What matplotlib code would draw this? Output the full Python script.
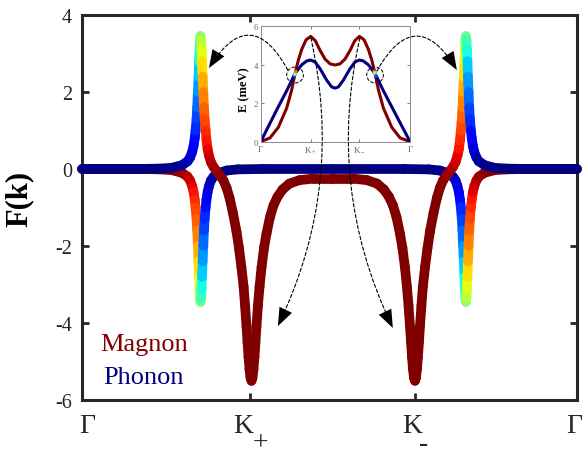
import numpy as np
import matplotlib.pyplot as plt
from matplotlib.collections import LineCollection
from matplotlib.patches import Ellipse, FancyArrowPatch

plt.rcParams['font.family'] = ['Liberation Serif', 'DejaVu Serif']
plt.rcParams['mathtext.fontset'] = 'custom'
plt.rcParams['mathtext.rm'] = 'Liberation Serif'
plt.rcParams['axes.unicode_minus'] = False

# k-path: Γ -> K+ -> K- -> Γ
tick_pos = [0.0, 1.02, 2.02, 3.0]
tick_lab = ['Γ', 'K', 'K', 'Γ']
tick_sub = ['', '+', '-', '']

# upper band: k, F(k), magnon weight (0 = phonon, 1 = magnon)
k_up = [0.0, 0.170, 0.352, 0.473, 0.545, 0.607, 0.641, 0.656, 0.669, 0.677,
        0.684, 0.689, 0.695, 0.699, 0.703, 0.707, 0.710, 0.713, 0.716, 0.719,
        0.723, 0.726, 0.728, 0.732, 0.736, 0.740, 0.744, 0.750, 0.755, 0.762,
        0.770, 0.782, 0.798, 0.836, 0.858, 0.877, 0.895, 0.916, 0.937, 0.952,
        0.967, 0.980, 0.989, 0.998, 1.004, 1.010, 1.016, 1.022, 1.028, 1.034,
        1.040, 1.046, 1.052, 1.058, 1.067, 1.077, 1.089, 1.104, 1.119, 1.140,
        1.161, 1.186, 1.217, 1.258, 1.319, 1.404, 1.523,
        1.643, 1.728, 1.789, 1.830, 1.861, 1.886, 1.907, 1.928, 1.943, 1.958,
        1.970, 1.980, 1.989, 1.995, 2.001, 2.007, 2.013, 2.019, 2.025, 2.031,
        2.037, 2.043, 2.049, 2.058, 2.067, 2.080, 2.095, 2.110, 2.131, 2.152,
        2.170, 2.189, 2.211, 2.249, 2.265, 2.277, 2.285, 2.292, 2.297, 2.303,
        2.307, 2.311, 2.315, 2.319, 2.321, 2.324, 2.328, 2.331, 2.334, 2.337,
        2.340, 2.344, 2.348, 2.352, 2.358, 2.363, 2.370, 2.378, 2.391, 2.406,
        2.440, 2.502, 2.574, 2.695, 2.877, 3.0]
F_up = [0.0, 0.0, 0.0, 0.01, 0.03, 0.1, 0.2, 0.3, 0.45, 0.6,
        0.8, 1.0, 1.3, 1.6, 2.0, 2.4, 2.8, 3.1, 3.35, 3.45,
        3.35, 3.1, 2.8, 2.4, 2.0, 1.6, 1.3, 1.0, 0.75, 0.52,
        0.35, 0.18, 0.05, -0.16, -0.30, -0.49, -0.75, -1.15, -1.62, -2.05,
        -2.55, -3.05, -3.55, -4.1, -4.5, -4.88, -5.2, -5.42, -5.5, -5.42,
        -5.2, -4.88, -4.5, -4.1, -3.55, -3.05, -2.55, -2.05, -1.68, -1.25,
        -0.95, -0.72, -0.53, -0.38, -0.29, -0.25, -0.25,
        -0.25, -0.29, -0.38, -0.53, -0.72, -0.95, -1.25, -1.68, -2.05, -2.55,
        -3.05, -3.55, -4.1, -4.5, -4.88, -5.2, -5.42, -5.5, -5.42, -5.2,
        -4.88, -4.5, -4.1, -3.55, -3.05, -2.55, -2.05, -1.62, -1.15, -0.75,
        -0.49, -0.30, -0.16, 0.05, 0.18, 0.35, 0.52, 0.75, 1.0, 1.3,
        1.6, 2.0, 2.4, 2.8, 3.1, 3.35, 3.45, 3.35, 3.1, 2.8,
        2.4, 2.0, 1.6, 1.3, 1.0, 0.8, 0.6, 0.45, 0.3, 0.2,
        0.1, 0.03, 0.01, 0.0, 0.0, 0.0]
w_up = [0.0, 0.0, 0.0, 0.0, 0.01, 0.02, 0.04, 0.06, 0.08, 0.1,
        0.12, 0.15, 0.18, 0.21, 0.25, 0.3, 0.35, 0.4, 0.45, 0.5,
        0.55, 0.6, 0.65, 0.7, 0.75, 0.79, 0.82, 0.85, 0.88, 0.9,
        0.92, 0.94, 0.96, 0.98, 0.99, 1, 1, 1, 1, 1,
        1, 1, 1, 1, 1, 1, 1, 1, 1, 1,
        1, 1, 1, 1, 1, 1, 1, 1, 1, 1,
        1, 1, 1, 1, 1, 1, 1,
        1, 1, 1, 1, 1, 1, 1, 1, 1, 1,
        1, 1, 1, 1, 1, 1, 1, 1, 1, 1,
        1, 1, 1, 1, 1, 1, 1, 1, 1, 1,
        1, 0.99, 0.98, 0.96, 0.94, 0.92, 0.9, 0.88, 0.85, 0.82,
        0.79, 0.75, 0.7, 0.65, 0.6, 0.55, 0.5, 0.45, 0.4, 0.35,
        0.3, 0.25, 0.21, 0.18, 0.15, 0.12, 0.1, 0.08, 0.06, 0.04,
        0.02, 0.01, 0.0, 0.0, 0.0, 0.0]

# lower band
k_lo = [0.0, 0.170, 0.352, 0.473, 0.545, 0.607, 0.641, 0.656, 0.669, 0.677,
        0.684, 0.689, 0.695, 0.699, 0.703, 0.707, 0.710, 0.713, 0.716, 0.719,
        0.723, 0.726, 0.728, 0.732, 0.736, 0.740, 0.744, 0.750, 0.755, 0.762,
        0.770, 0.782, 0.798, 0.832, 0.877, 0.945, 1.1, 1.523, 1.95, 2.102,
        2.170, 2.215, 2.249, 2.265, 2.277, 2.285, 2.292, 2.297, 2.303, 2.307,
        2.311, 2.315, 2.319, 2.321, 2.324, 2.328, 2.331, 2.334, 2.337, 2.340,
        2.344, 2.348, 2.352, 2.358, 2.363, 2.370, 2.378, 2.391, 2.406, 2.440,
        2.502, 2.574, 2.695, 2.877, 3.0]
F_lo = [0.0, 0.0, 0.0, -0.01, -0.03, -0.1, -0.2, -0.3, -0.45, -0.6,
        -0.8, -1.0, -1.3, -1.6, -2.0, -2.4, -2.8, -3.1, -3.35, -3.45,
        -3.35, -3.1, -2.8, -2.4, -2.0, -1.6, -1.3, -1.0, -0.8, -0.6,
        -0.45, -0.3, -0.2, -0.1, -0.04, -0.01, 0.0, 0.0, 0.0, -0.01,
        -0.04, -0.1, -0.2, -0.3, -0.45, -0.6, -0.8, -1.0, -1.3, -1.6,
        -2.0, -2.4, -2.8, -3.1, -3.35, -3.45, -3.35, -3.1, -2.8, -2.4,
        -2.0, -1.6, -1.3, -1.0, -0.8, -0.6, -0.45, -0.3, -0.2, -0.1,
        -0.03, -0.01, 0.0, 0.0, 0.0]
w_lo = [1, 1, 1, 1, 0.99, 0.98, 0.96, 0.94, 0.92, 0.9,
        0.88, 0.85, 0.82, 0.79, 0.75, 0.7, 0.65, 0.6, 0.55, 0.5,
        0.45, 0.4, 0.35, 0.3, 0.25, 0.21, 0.18, 0.15, 0.12, 0.1,
        0.08, 0.06, 0.04, 0.02, 0.01, 0.0, 0.0, 0.0, 0.0, 0.0,
        0.01, 0.02, 0.04, 0.06, 0.08, 0.1, 0.12, 0.15, 0.18, 0.21,
        0.25, 0.3, 0.35, 0.4, 0.45, 0.5, 0.55, 0.6, 0.65, 0.7,
        0.75, 0.79, 0.82, 0.85, 0.88, 0.9, 0.92, 0.94, 0.96, 0.98,
        0.99, 1, 1, 1, 1]

# inset dispersion E(k) in meV
ins_k_mag = [0.0, 0.1875, 0.355, 0.522, 0.623, 0.690, 0.757, 0.824, 0.911, 1.004,
             1.098, 1.192, 1.292, 1.393, 1.493, 1.594, 1.694, 1.795, 1.888, 1.982,
             2.076, 2.163, 2.230, 2.297, 2.364, 2.464, 2.632, 2.799, 3.0]
ins_E_mag = [0.0, 0.2, 0.75, 1.75, 2.7, 3.55, 4.25, 4.8, 5.3, 5.48,
             5.25, 4.75, 4.3, 4.05, 3.99, 4.05, 4.3, 4.75, 5.25, 5.48,
             5.3, 4.8, 4.25, 3.55, 2.7, 1.75, 0.75, 0.2, 0.0]
ins_k_ph = [0.0, 0.321, 0.522, 0.690, 0.824, 0.924, 1.004, 1.092, 1.192, 1.326,
            1.426, 1.493, 1.560, 1.660, 1.794, 1.894, 1.982, 2.062, 2.162, 2.296,
            2.464, 2.665, 3.0]
ins_E_ph = [0.0, 1.65, 2.65, 3.55, 4.0, 4.2, 4.25, 4.15, 3.8, 3.2,
            2.85, 2.79, 2.85, 3.2, 3.8, 4.15, 4.25, 4.2, 4.0, 3.55,
            2.65, 1.65, 0.0]
ins_tick_pos = [0.0, 1.004, 1.982, 3.0]
ins_tick_lab = ['Γ', r'K$_+$', r'K$_-$', 'Γ']
# hybridised points at the two crossings
mix_k = [0.672, 0.684, 0.696, 0.708, 2.279, 2.291, 2.303, 2.315]
mix_E = [3.42, 3.50, 3.58, 3.66, 3.66, 3.58, 3.50, 3.42]
mix_w = [0.2, 0.4, 0.6, 0.8, 0.8, 0.6, 0.4, 0.2]


def draw_band(ax, k, f, w, z):
    pts = np.column_stack([k, f])
    segs = np.stack([pts[:-1], pts[1:]], axis=1)
    cw = (np.asarray(w[:-1]) + np.asarray(w[1:])) / 2
    lc = LineCollection(segs, colors=plt.cm.jet(cw), linewidths=7,
                        capstyle='round', joinstyle='round', zorder=z)
    lc.set_clip_on(False)
    ax.add_collection(lc)


fig = plt.figure(figsize=(5.85, 4.56), dpi=100)
ax = fig.add_axes([0.140, 0.1206, 0.846, 0.8444])

draw_band(ax, k_lo, F_lo, w_lo, 2)
draw_band(ax, k_up, F_up, w_up, 3)

ax.set_xlim(0, 3)
ax.set_ylim(-6, 4)
ax.set_yticks([4, 2, 0, -2, -4, -6])
ax.set_xticks(tick_pos)
ax.set_xticklabels([])
ax.tick_params(direction='in', length=5, width=2, top=True, right=True,
               labelsize=14.5, colors='0.15', pad=7)
for s in ax.spines.values():
    s.set_linewidth(2.2)
    s.set_color('0.15')

xt = ax.get_xaxis_transform()
lab_dx = [4, -5, -2.4, -2]
sub_dx = [0, 7.3, 6.3, 0]
for pos, lab, sub, dx, sdx in zip(tick_pos, tick_lab, tick_sub, lab_dx, sub_dx):
    ax.annotate(lab, xy=(pos, 0), xycoords=xt, xytext=(dx, -18),
                textcoords='offset points', ha='center', va='center',
                fontsize=20, color='0.15', annotation_clip=False)
    if sub:
        ax.annotate(sub, xy=(pos, 0), xycoords=xt, xytext=(sdx, -31),
                    textcoords='offset points', ha='center', va='center',
                    fontsize=20, color='0.15', annotation_clip=False)

ax.set_ylabel('F(k)', fontsize=22, fontweight='bold')
ax.yaxis.set_label_coords(-0.098, 0.525)

ax.text(0.109, -4.70, 'Magnon', color=plt.cm.jet(1.0), fontsize=19, va='baseline')
ax.text(0.127, -5.56, 'Phonon', color=plt.cm.jet(0.0), fontsize=19, va='baseline')

# inset
ins = fig.add_axes([0.4456, 0.687, 0.2554, 0.253])
ins.plot(ins_k_mag, ins_E_mag, color=plt.cm.jet(1.0), lw=2.2)
ins.plot(ins_k_ph, ins_E_ph, color=plt.cm.jet(0.0), lw=2.2)
ins.scatter(mix_k, mix_E, c=plt.cm.jet(mix_w), s=6, zorder=3, linewidths=0)
ins.set_xlim(0, 3)
ins.set_ylim(0, 6)
ins.set_yticks([0, 2, 4, 6])
ins.set_xticks(ins_tick_pos)
ins.set_xticklabels(ins_tick_lab)
ins.tick_params(direction='in', length=2, width=0.6, top=True, right=True,
                labelsize=6.5, colors='0.4', pad=2)
for s in ins.spines.values():
    s.set_linewidth(0.7)
    s.set_color('0.55')
ins.set_ylabel('E (meV)', fontsize=9, fontweight='bold')
ins.yaxis.set_label_coords(-0.07, 0.457)
for cx in [0.69, 2.297]:
    ins.add_patch(Ellipse((cx, 3.47), 0.335, 0.83, fill=False, ls='--', lw=0.7, color='k'))

# dashed arrows from the inset to the main curves
arrows = [((1.248, 2.57), (0.770, 2.62), 0.86),
          ((1.788, 2.545), (2.273, 2.57), -0.86),
          ((1.388, 3.40), (1.188, -4.08), -0.175),
          ((1.685, 3.40), (1.885, -4.13), 0.175)]
for a, b, rad in arrows:
    cs = f'arc3,rad={rad}'
    shaft = FancyArrowPatch(a, b, transform=ax.transData, connectionstyle=cs,
                            arrowstyle='-', ls=(0, (3, 2)), lw=0.8, color='k',
                            shrinkA=0, shrinkB=3, zorder=5)
    head = FancyArrowPatch(a, b, transform=ax.transData, connectionstyle=cs,
                           arrowstyle='-|>,head_length=1.3,head_width=0.5',
                           mutation_scale=10, lw=0, color='k',
                           shrinkA=0, shrinkB=0, zorder=5)
    fig.add_artist(shaft)
    fig.add_artist(head)

fig.savefig('out.png', dpi=100)
